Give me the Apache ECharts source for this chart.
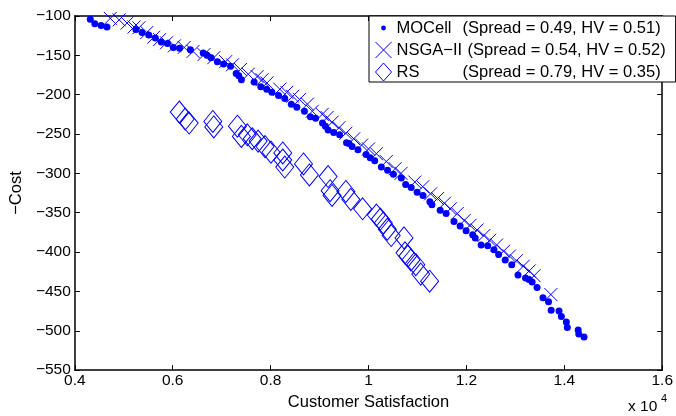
<!DOCTYPE html>
<html>
<head>
<meta charset="utf-8">
<script src="https://cdn.jsdelivr.net/npm/echarts@6/dist/echarts.min.js"></script>
<style>
  html, body { margin: 0; padding: 0; background: #fff; }
  #chart { width: 676px; height: 416px; }
</style>
</head>
<body>
<div id="chart"></div>
<script>
// Pareto fronts: customer satisfaction vs -cost

const seriesNames = ['MOCell', 'NSGA−II', 'RS']
const spreadValues = [0.49, 0.54, 0.79]
const hvValues = [0.51, 0.52, 0.35]
const xTickValues = [4000, 6000, 8000, 10000, 12000, 14000, 16000]
const yTickValues = [-550, -500, -450, -400, -350, -300, -250, -200, -150, -100]

// MOCell
const mocellPoints = [
  [4316, -104], [4409, -110], [4538, -112], [4658, -114], [5248, -117], [5375, -121],
  [5510, -124], [5645, -128], [5766, -133], [5893, -135], [6013, -140], [6140, -141],
  [6362, -143], [6623, -147], [6700, -150], [6785, -153], [6913, -158], [7040, -161],
  [7181, -164], [7296, -173], [7350, -176], [7403, -181], [7664, -184], [7799, -190],
  [7920, -193], [8027, -197], [8162, -201], [8289, -205], [8423, -212], [8536, -216],
  [8691, -221], [8812, -228], [8919, -230], [9060, -236], [9120, -240], [9175, -245],
  [9289, -248], [9410, -251], [9551, -261], [9600, -262], [9664, -266], [9785, -270],
  [9950, -276], [10034, -280], [10127, -284], [10262, -292], [10389, -296], [10509, -301],
  [10670, -306], [10759, -314], [10872, -318], [10993, -324], [11113, -328], [11254, -336],
  [11295, -340], [11464, -347], [11585, -351], [11746, -361], [11872, -367], [11993, -373],
  [12128, -378], [12180, -382], [12301, -391], [12436, -392], [12563, -397], [12658, -403],
  [12793, -410], [12926, -416], [13054, -429], [13208, -433], [13280, -435], [13342, -438],
  [13443, -445], [13564, -458], [13678, -463], [13731, -474], [13892, -475], [13940, -482],
  [14041, -489], [14061, -496], [14283, -499], [14295, -504], [14403, -508]
]

// NSGA-II
const nsgaPoints = [
  [4725, -103], [4906, -105], [5067, -109], [5208, -114], [5309, -115], [5470, -121],
  [5611, -127], [5732, -130], [5873, -134], [6034, -138], [6235, -140], [6416, -145],
  [6638, -149], [6839, -153], [7081, -158], [7221, -162], [7383, -168], [7544, -174],
  [7725, -177], [7825, -181], [7926, -185], [8188, -193], [8329, -197], [8450, -202],
  [8591, -206], [8752, -212], [8852, -221], [9054, -225], [9154, -229], [9255, -235],
  [9396, -242], [9537, -249], [9698, -256], [9859, -264], [10000, -269], [10161, -275],
  [10362, -285], [10544, -294], [10664, -300], [10946, -311], [11107, -317], [11268, -326],
  [11409, -332], [11550, -338], [11671, -345], [11812, -351], [11953, -360], [12074, -366],
  [12215, -372], [12356, -379], [12477, -385], [12617, -391], [12758, -399], [12879, -405],
  [13020, -411], [13161, -418], [13282, -424], [13383, -430], [13725, -454]
]

// RS
const rsPoints = [
  [6134, -222], [6255, -231], [6336, -236], [6819, -234], [6839, -241], [7322, -240],
  [7403, -253], [7523, -251], [7624, -256], [7745, -259], [7886, -266], [8007, -273],
  [8248, -274], [8248, -283], [8289, -292], [8671, -288], [8792, -302], [9174, -304],
  [9215, -322], [9255, -328], [9537, -323], [9638, -333], [9879, -345], [10161, -353],
  [10242, -358], [10302, -363], [10383, -371], [10463, -379], [10725, -382], [10745, -401],
  [10805, -405], [10866, -410], [10966, -416], [11067, -428], [11248, -437]
]

const chart = echarts.init(document.getElementById('chart'))

const FONT = 'Liberation Sans'
const BLUE = '#0000ff'
const crossPath = 'path://M0,0L10,10M10,0L0,10'
// small dot centred in a larger box, so the legend icon stays small
const dotIconPath = 'path://M0,0M20,20M7,10A3,3,0,1,0,13,10A3,3,0,1,0,7,10Z'

const minus = s => String(s).replace('-', '\u2212')

const axisCommon = {
  type: 'value',
  splitLine: { show: false },
  axisLine: { show: true, onZero: false, lineStyle: { color: '#000', width: 1.5 } },
  axisTick: { show: true, inside: true, length: 5, lineStyle: { color: '#000', width: 1 } }
}

const legendLabel = i => {
  const key = i === 1 ? 'w' : 'n'
  return '{' + key + '|' + seriesNames[i] + '}(Spread = ' + spreadValues[i].toFixed(2) +
    ', HV = ' + hvValues[i].toFixed(2) + ')'
}

chart.setOption({
  animation: false,
  textStyle: { fontFamily: FONT },
  grid: { left: 72, right: 8, top: 16, bottom: 43 },
  xAxis: [
    {
      ...axisCommon,
      min: xTickValues[0],
      max: xTickValues[xTickValues.length - 1],
      interval: 2000,
      name: 'Customer Satisfaction',
      nameLocation: 'middle',
      nameGap: 20,
      nameTextStyle: { fontSize: 16.5, color: '#000', fontFamily: FONT },
      axisLabel: {
        fontSize: 15.5, color: '#000', margin: 3, fontFamily: FONT,
        formatter: v => String(v / 10000)
      }
    },
    {
      ...axisCommon,
      position: 'top',
      min: xTickValues[0],
      max: xTickValues[xTickValues.length - 1],
      interval: 2000,
      axisLabel: { show: false }
    }
  ],
  yAxis: [
    {
      ...axisCommon,
      min: yTickValues[0],
      max: yTickValues[yTickValues.length - 1],
      interval: 50,
      name: '\u2212Cost',
      nameLocation: 'middle',
      nameGap: 42,
      nameTextStyle: { fontSize: 16.5, color: '#000', fontFamily: FONT },
      axisLabel: {
        fontSize: 15.5, color: '#000', margin: 4, fontFamily: FONT,
        formatter: v => minus(v)
      }
    },
    {
      ...axisCommon,
      position: 'right',
      min: yTickValues[0],
      max: yTickValues[yTickValues.length - 1],
      interval: 50,
      axisLabel: { show: false }
    }
  ],
  legend: {
    left: 369,
    top: 16,
    orient: 'vertical',
    backgroundColor: '#fff',
    borderColor: '#000',
    borderWidth: 1,
    borderRadius: 0,
    padding: [2, 10, 0, 6],
    itemGap: 2,
    itemWidth: 16,
    itemHeight: 18,
    textStyle: {
      fontSize: 16.5,
      color: '#000',
      fontFamily: FONT,
      lineHeight: 20,
      rich: {
        n: { width: 66, fontSize: 16.5, fontFamily: FONT, color: '#000' },
        w: { width: 71, fontSize: 16.5, fontFamily: FONT, color: '#000' }
      }
    },
    formatter: name => legendLabel(seriesNames.indexOf(name)),
    data: [
      { name: seriesNames[0], icon: dotIconPath, itemStyle: { color: BLUE, borderWidth: 0 } },
      { name: seriesNames[1], icon: crossPath, itemStyle: { color: 'transparent', borderColor: BLUE, borderWidth: 1 } },
      { name: seriesNames[2], icon: 'diamond', itemStyle: { color: 'transparent', borderColor: BLUE, borderWidth: 1 } }
    ]
  },
  series: [
    {
      name: seriesNames[0],
      type: 'scatter',
      data: mocellPoints,
      symbol: 'circle',
      symbolSize: 7,
      itemStyle: { color: BLUE, opacity: 1 }
    },
    {
      name: seriesNames[1],
      type: 'scatter',
      data: nsgaPoints,
      symbol: crossPath,
      symbolSize: 13,
      itemStyle: { color: 'transparent', borderColor: BLUE, borderWidth: 1, opacity: 1 }
    },
    {
      name: seriesNames[2],
      type: 'scatter',
      data: rsPoints,
      symbol: 'diamond',
      symbolSize: [18, 22],
      itemStyle: { color: 'transparent', borderColor: BLUE, borderWidth: 1, opacity: 1 }
    }
  ],
  graphic: [
    {
      type: 'text', left: 628, top: 399,
      style: { text: 'x 10', fontSize: 15.5, fontFamily: FONT, fill: '#000' }
    },
    {
      type: 'text', left: 661, top: 393,
      style: { text: '4', fontSize: 11, fontFamily: FONT, fill: '#000' }
    }
  ]
})
</script>
</body>
</html>
